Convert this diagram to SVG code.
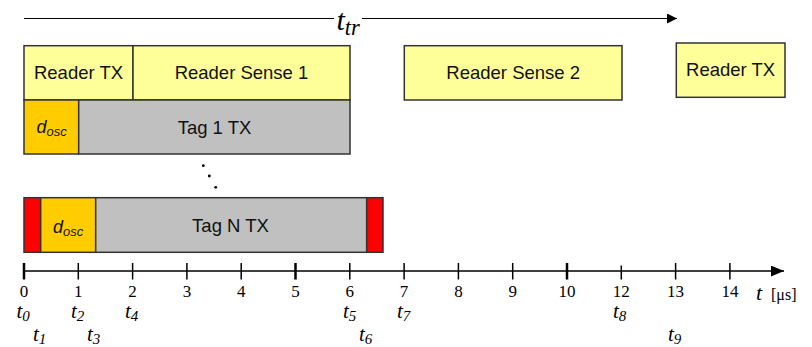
<svg xmlns="http://www.w3.org/2000/svg" width="812" height="347" viewBox="0 0 812 347">
<defs>
<marker id="ah" viewBox="0 0 10 10" refX="10" refY="5" markerWidth="10" markerHeight="10" markerUnits="userSpaceOnUse" orient="auto"><path d="M0,0 L10,5 L0,10 z" fill="#000"/></marker>
<marker id="ah2" viewBox="0 0 12 10" refX="12" refY="5" markerWidth="13" markerHeight="11" markerUnits="userSpaceOnUse" orient="auto"><path d="M0,0 L12,5 L0,10 z" fill="#000"/></marker>
</defs>
<style>
.box{stroke:#333;stroke-width:1.5}
.y{fill:#FFFF99}
.o{fill:#FFCC00}
.g{fill:#C0C0C0}
.r{fill:#FF0000}
.lbl{font-family:"Liberation Sans",Arial,sans-serif;font-size:18.5px;fill:#111;text-anchor:middle}
.d{font-family:"Liberation Sans",Arial,sans-serif;font-size:18px;font-style:italic;fill:#111}
.ds{font-size:13px}
.num{font-family:"Liberation Serif","Times New Roman",serif;font-size:17px;fill:#000;text-anchor:middle}
.tl{font-family:"Liberation Serif","Times New Roman",serif;font-size:21px;font-style:italic;fill:#000}
.ts{font-size:15px}
.tick{stroke:#000;stroke-width:1.5}
.major{stroke:#000;stroke-width:2.5}
</style>
<g id="connectors">
<line x1="24" y1="18.5" x2="334" y2="18.5" stroke="#000" stroke-width="1.2"/>
<line x1="362" y1="18.5" x2="677" y2="18.5" stroke="#000" stroke-width="1.2" marker-end="url(#ah)"/>
<line x1="24" y1="271" x2="784" y2="271" stroke="#000" stroke-width="1.5" marker-end="url(#ah2)"/>
</g>
<g id="ttr-label"><text x="336.5" y="30" class="tl" style="font-size:30px">t<tspan dy="5" style="font-size:22.5px">tr</tspan></text></g>
<g id="reader-tx-1"><rect x="24" y="45.7" width="109" height="54.3" class="box y"/><text x="78.5" y="79" class="lbl">Reader TX</text></g>
<g id="reader-sense-1"><rect x="133" y="45.7" width="217" height="54.3" class="box y"/><text x="241.5" y="79" class="lbl">Reader Sense 1</text></g>
<g id="dosc-1"><rect x="24" y="100" width="54.7" height="54" class="box o"/><text x="36.5" y="133" class="d">d<tspan class="ds" dy="3">osc</tspan></text></g>
<g id="tag-1-tx"><rect x="78.7" y="100" width="271.3" height="54" class="box g"/><text x="214.5" y="133.5" class="lbl">Tag 1 TX</text></g>
<g id="reader-sense-2"><rect x="404.3" y="45.7" width="217.7" height="54.3" class="box y"/><text x="513.2" y="79" class="lbl">Reader Sense 2</text></g>
<g id="reader-tx-2"><rect x="676.3" y="43" width="108.7" height="54.3" class="box y"/><text x="730.6" y="76" class="lbl">Reader TX</text></g>
<g id="dots" fill="#000"><circle cx="203.3" cy="165.7" r="1.4"/><circle cx="209.3" cy="176" r="1.4"/><circle cx="215.7" cy="187.3" r="1.4"/></g>
<g id="tag-n">
<rect x="24" y="197.7" width="16.7" height="54.6" class="box r"/>
<rect x="40.7" y="197.7" width="55" height="54.6" class="box o"/>
<text x="53" y="232.5" class="d">d<tspan class="ds" dy="3">osc</tspan></text>
<rect x="95.7" y="197.7" width="271" height="54.6" class="box g"/>
<text x="230.5" y="231.5" class="lbl">Tag N TX</text>
<rect x="366.7" y="197.7" width="16.3" height="54.6" class="box r"/>
</g>
<g id="axis">
<line x1="24" y1="263" x2="24" y2="279.5" class="major"/>
<line x1="78.3" y1="263" x2="78.3" y2="279.5" class="tick"/>
<line x1="132.6" y1="263" x2="132.6" y2="279.5" class="tick"/>
<line x1="186.9" y1="263" x2="186.9" y2="279.5" class="tick"/>
<line x1="241.2" y1="263" x2="241.2" y2="279.5" class="tick"/>
<line x1="295.5" y1="263" x2="295.5" y2="279.5" class="major"/>
<line x1="349.8" y1="263" x2="349.8" y2="279.5" class="tick"/>
<line x1="404.1" y1="263" x2="404.1" y2="279.5" class="tick"/>
<line x1="458.4" y1="263" x2="458.4" y2="279.5" class="tick"/>
<line x1="512.7" y1="263" x2="512.7" y2="279.5" class="tick"/>
<line x1="567" y1="263" x2="567" y2="279.5" class="major"/>
<line x1="621.3" y1="265.5" x2="621.3" y2="279.5" class="tick"/>
<line x1="675.6" y1="263" x2="675.6" y2="279.5" class="tick"/>
<line x1="729.9" y1="263" x2="729.9" y2="279.5" class="tick"/>
<text x="24" y="297" class="num">0</text>
<text x="78.3" y="297" class="num">1</text>
<text x="132.6" y="297" class="num">2</text>
<text x="186.9" y="297" class="num">3</text>
<text x="241.2" y="297" class="num">4</text>
<text x="295.5" y="297" class="num">5</text>
<text x="349.8" y="297" class="num">6</text>
<text x="404.1" y="297" class="num">7</text>
<text x="458.4" y="297" class="num">8</text>
<text x="512.7" y="297" class="num">9</text>
<text x="567" y="297" class="num">10</text>
<text x="621.3" y="297" class="num">12</text>
<text x="675.6" y="297" class="num">13</text>
<text x="729.9" y="297" class="num">14</text>
<text x="756" y="300" class="tl" style="font-size:22px">t</text>
<text x="771" y="300" class="num" style="text-anchor:start;font-size:16px">[μs]</text>
</g>
<g id="time-labels">
<text x="16.5" y="318" class="tl">t<tspan class="ts" dy="3">0</tspan></text>
<text x="33" y="340.5" class="tl">t<tspan class="ts" dy="3">1</tspan></text>
<text x="71" y="318" class="tl">t<tspan class="ts" dy="3">2</tspan></text>
<text x="87" y="340.5" class="tl">t<tspan class="ts" dy="3">3</tspan></text>
<text x="125" y="318" class="tl">t<tspan class="ts" dy="3">4</tspan></text>
<text x="343" y="318" class="tl">t<tspan class="ts" dy="3">5</tspan></text>
<text x="359" y="340.5" class="tl">t<tspan class="ts" dy="3">6</tspan></text>
<text x="397" y="318" class="tl">t<tspan class="ts" dy="3">7</tspan></text>
<text x="613" y="318" class="tl">t<tspan class="ts" dy="3">8</tspan></text>
<text x="668" y="340.5" class="tl">t<tspan class="ts" dy="3">9</tspan></text>
</g>
</svg>
